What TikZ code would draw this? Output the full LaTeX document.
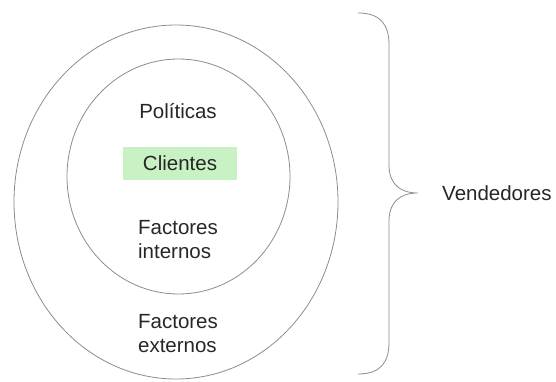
\documentclass[tikz,border=0pt]{standalone}
\usepackage{fontspec}
\setmainfont{Liberation Sans}
\definecolor{verdeclaro}{RGB}{200,242,196}
\definecolor{linea}{RGB}{140,140,140}
\tikzset{
	texto/.style={font=\fontsize{20.5}{24}\selectfont, inner sep=0pt, align=left, text=black!85},
	borde/.style={draw=linea, line width=0.8pt}
}
\begin{document}
\begin{tikzpicture}[x=1pt,y=-1pt]
		\useasboundingbox (0,0) rectangle (556,382);
		\draw[borde] (176,202) ellipse [x radius=162, y radius=177];
		\draw[borde] (178.5,176.5) ellipse [x radius=111.5, y radius=117.5];
		\node[texto] (politicas) at (178,111) {Políticas};
		\node[texto, fill=verdeclaro, minimum width=114pt, minimum height=33pt, align=center] (clientes) at (180,163.5) {Clientes};
		\node[texto] (internos) at (178,240) {Factores\\internos};
		\node[texto] (externos) at (178,334) {Factores\\externos};
		\draw[borde] (358,13) .. controls (381,13) and (389,25) .. (389,45) -- (389,165)
			.. controls (389,184) and (400,193) .. (418,193) coordinate (punta)
			.. controls (400,193) and (389,202) .. (389,221) -- (389,342)
			.. controls (389,362) and (381,374) .. (358,374);
		\node[texto, anchor=west] (vendedores) at (442,193) {Vendedores};
	\end{tikzpicture}
\end{document}
